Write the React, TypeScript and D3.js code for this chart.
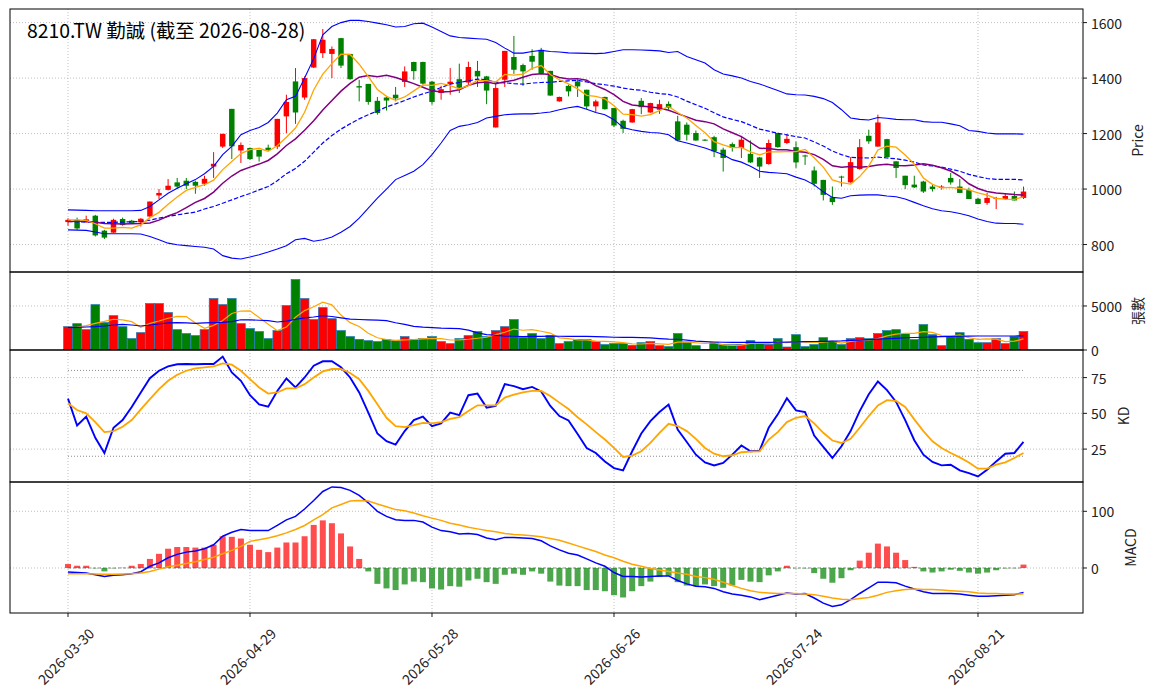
import React from "react";
import * as d3 from "d3";

const titleText = "8210.TW 勤誠 (截至 2026-08-28)";
const tickIdx = [0, 20, 40, 60, 80, 100];
const tickLabels = ["2026-03-30", "2026-04-29", "2026-05-28", "2026-06-26", "2026-07-24", "2026-08-21"];

const opens = [881,889,884,904,850,843,892,886,880,901,
977,997,1024,1030,1026,1019,1081,1153,1289,1139,
1148,1141,1149,1153,1262,1388,1330,1438,1490,1487,
1544,1487,1371,1379,1318,1330,1340,1386,1458,1458,
1387,1346,1379,1396,1384,1426,1406,1222,1394,1476,
1447,1480,1502,1426,1316,1372,1388,1358,1298,1332,
1292,1246,1240,1318,1276,1286,1307,1244,1232,1202,
1178,1187,1142,1162,1148,1127,1114,1090,1202,1166,
1151,1121,1067,1033,970,1045,1024,1072,1192,1153,
1180,1100,1048,1016,1027,1009,1004,1040,1009,997,
965,950,965,964,975,968];
const highs = [895,897,904,907,853,893,897,889,895,955,
1000,1036,1040,1040,1030,1048,1133,1199,1289,1168,
1149,1142,1160,1253,1340,1436,1406,1541,1577,1514,
1545,1487,1394,1379,1332,1336,1368,1442,1459,1459,
1390,1372,1436,1452,1459,1462,1408,1384,1498,1552,
1452,1504,1509,1426,1333,1376,1396,1358,1322,1333,
1293,1250,1289,1328,1311,1322,1316,1264,1240,1211,
1180,1192,1149,1168,1192,1175,1116,1178,1203,1199,
1171,1124,1081,1033,1009,1048,1115,1180,1214,1268,
1181,1100,1048,1048,1030,1016,1014,1058,1036,1005,
969,986,972,983,991,1009];
const lows = [868,853,878,829,820,842,868,874,865,900,
964,995,1000,1000,983,1012,1040,1148,1108,1094,
1105,1099,1137,1144,1202,1235,1322,1436,1472,1400,
1436,1394,1316,1304,1268,1283,1316,1368,1394,1377,
1304,1322,1340,1346,1376,1368,1306,1222,1368,1415,
1372,1430,1416,1336,1315,1334,1332,1288,1276,1286,
1223,1202,1239,1270,1275,1271,1286,1172,1175,1174,
1173,1115,1063,1135,1112,1094,1040,1088,1149,1162,
1076,1087,1009,959,943,1009,1023,1070,1163,1153,
1115,1040,1000,1004,986,991,998,1016,985,964,
946,943,928,961,959,964];
const closes = [889,858,891,833,825,889,870,878,893,955,
986,1012,1009,1012,1012,1037,1091,1199,1154,1159,
1108,1117,1141,1253,1314,1276,1400,1540,1538,1505,
1445,1396,1366,1314,1274,1319,1327,1424,1425,1380,
1314,1360,1387,1365,1440,1406,1355,1364,1498,1430,
1424,1459,1416,1337,1332,1352,1370,1298,1316,1288,
1229,1217,1288,1295,1310,1306,1292,1175,1196,1175,
1175,1136,1112,1148,1178,1096,1081,1166,1151,1181,
1096,1119,1019,979,953,1044,1097,1151,1172,1240,
1115,1076,1014,1006,991,1000,1009,1024,986,964,
946,968,968,975,959,991];
const volumes = [2650,2990,2310,5150,3110,3900,2650,1290,1970,5270,
5270,4250,2310,1860,1630,2310,5840,5150,5840,2990,
2430,2090,1290,2200,5040,8000,5840,3450,4810,3560,
2200,1520,1210,1060,950,1210,1060,1520,1210,1290,
1520,950,720,1290,1630,2090,1520,2200,2650,3450,
1400,1860,1290,1630,720,950,1210,1180,950,610,
720,720,530,830,950,490,380,1860,910,490,
50,830,610,610,640,1060,800,640,1290,340,
1740,380,610,1400,950,610,1290,1400,1290,1860,
2200,2310,1860,1180,2880,1740,490,1520,1970,1210,
830,830,1290,720,1520,2090];

const ma5 = [889,889,887,875,859,859,862,859,871,897,
916,945,971,995,1006,1016,1032,1070,1099,1128,
1142,1147,1136,1156,1187,1220,1277,1357,1414,1452,
1486,1485,1450,1405,1359,1334,1320,1332,1354,1375,
1374,1381,1373,1361,1373,1392,1391,1386,1413,1411,
1414,1435,1445,1413,1394,1379,1361,1338,1334,1325,
1300,1270,1268,1263,1268,1283,1298,1276,1256,1229,
1203,1171,1159,1149,1150,1134,1123,1134,1134,1135,
1135,1143,1113,1079,1033,1023,1018,1045,1083,1141,
1155,1151,1123,1090,1040,1017,1004,1006,1002,997,
986,978,966,964,963,972];
const ma10 = [883,884,884,880,876,875,874,875,876,878,
888,903,915,933,952,966,989,1021,1047,1067,
1079,1090,1103,1127,1157,1181,1212,1246,1285,1319,
1353,1381,1403,1409,1405,1410,1402,1391,1380,1367,
1354,1350,1352,1358,1374,1383,1386,1380,1387,1392,
1403,1413,1416,1413,1402,1397,1398,1392,1373,1359,
1340,1316,1303,1299,1296,1292,1284,1272,1260,1248,
1243,1235,1217,1203,1189,1168,1147,1146,1142,1142,
1135,1133,1124,1107,1084,1079,1081,1079,1081,1087,
1089,1085,1084,1087,1091,1086,1077,1065,1046,1019,
1002,991,986,983,980,979];
const ma20 = [883,882,881,880,880,880,881,882,883,888,
895,901,907,912,917,928,937,949,961,973,
984,997,1009,1030,1055,1074,1100,1133,1166,1193,
1216,1235,1253,1268,1281,1296,1307,1319,1332,1343,
1353,1366,1378,1384,1390,1396,1394,1385,1383,1380,
1378,1382,1384,1385,1388,1390,1392,1386,1380,1376,
1371,1364,1359,1356,1349,1344,1341,1332,1317,1304,
1291,1275,1260,1251,1243,1230,1216,1209,1201,1195,
1189,1184,1170,1155,1137,1124,1114,1113,1112,1115,
1112,1109,1104,1097,1087,1083,1079,1072,1064,1053,
1045,1038,1035,1035,1035,1033];
const bbUpper = [925,924,923,922,922,922,922,922,923,937,
961,985,1003,1019,1034,1055,1082,1124,1154,1196,
1211,1222,1240,1274,1322,1334,1400,1470,1556,1586,
1600,1608,1608,1604,1598,1592,1584,1586,1596,1598,
1584,1568,1552,1546,1544,1542,1540,1528,1508,1490,
1490,1496,1500,1496,1494,1491,1490,1489,1488,1490,
1496,1502,1502,1501,1500,1498,1492,1496,1478,1466,
1454,1430,1415,1408,1400,1388,1379,1367,1355,1343,
1340,1339,1334,1326,1312,1286,1256,1251,1249,1258,
1255,1251,1250,1250,1243,1241,1241,1235,1228,1211,
1208,1202,1199,1199,1199,1198];
const bbLower = [853,852,851,845,839,839,839,839,838,829,
817,805,799,796,793,790,784,760,751,748,
755,763,773,784,796,817,822,812,817,827,
844,865,895,931,967,1000,1034,1049,1064,1088,
1124,1166,1211,1226,1232,1240,1256,1262,1268,1270,
1271,1271,1274,1278,1286,1293,1298,1288,1276,1268,
1250,1222,1214,1208,1204,1202,1196,1174,1166,1157,
1148,1136,1124,1106,1097,1082,1064,1060,1058,1055,
1043,1033,1015,990,970,967,976,978,979,979,
975,972,964,952,940,929,922,918,912,904,
892,883,877,876,876,873];

const volMa5 = [2540,2615,2767,3032,3244,3494,3426,3222,2585,3017,
3290,3608,3813,3790,3062,2471,2790,3358,4154,4427,
4450,3699,2926,2198,2608,3722,4472,4904,5427,5132,
3972,3108,2661,1910,1387,1190,1099,1160,1190,1258,
1319,1296,1137,1152,1221,1334,1448,1744,2016,2380,
2244,2312,2130,1925,1380,1289,1160,1137,1001,978,
932,834,705,682,750,705,637,902,917,826,
738,829,579,518,548,750,743,750,887,826,
963,879,872,894,1016,788,970,1129,1107,1289,
1607,1812,1903,1880,2084,1993,1630,1561,1721,1387,
1205,1274,1228,944,1005,1255];
const volMa20 = [2540,2577,2615,2653,2729,2842,2918,2842,2729,2842,
2956,3070,3108,3070,3032,3070,3108,3146,3221,3438,
3426,3381,3330,3182,3279,3483,3642,3750,3892,3807,
3654,3517,3462,3422,3389,3334,3095,2913,2681,2596,
2551,2494,2466,2420,2250,1954,1738,1676,1567,1562,
1522,1539,1543,1571,1560,1547,1554,1537,1524,1490,
1450,1439,1429,1406,1372,1293,1236,1219,1131,1000,
950,910,880,872,872,872,872,872,880,900,
920,948,965,985,1005,1030,1080,1130,1180,1230,
1280,1330,1390,1420,1450,1490,1520,1540,1560,1580,
1590,1592,1592,1592,1592,1600];

const kValues = [60.3,41.5,47.7,32.9,22.3,39.9,45.3,54.5,64.6,74.6,
79.8,82.9,84.3,84.5,84.3,84.5,84.5,89.7,78.6,72.8,
62.7,56.3,54.7,65.7,74.4,68.1,75.1,83.3,86.4,86.4,
82.2,75.1,64.6,50.5,35.9,30.5,28.2,37.6,45.3,47.7,
41.1,43,50.5,48.8,62.7,63.8,54,55.2,70.4,69,
66.9,68.5,65.3,55.2,48.1,45,35.5,25.8,22.3,16.4,
11.7,10.1,23.5,35.9,44.6,50.9,56.1,38.7,30,21.1,
15.7,13.6,15.3,21.1,27.5,23.5,23.9,39.9,49.3,60.6,
52.1,50.9,34.5,26.5,18.8,27,37.6,51.6,63.4,72.3,
66.2,58,45.3,31.2,21.1,16,13.6,14.1,10.1,8.2,
5.9,10.6,16.4,21.8,22.3,30];
const dValues = [57,52.3,50,43.9,36.9,37.6,40.6,45.3,52.8,59.9,
66.9,72.8,77,79.8,81.5,82.2,82.9,85,84,79.8,
73.9,68.1,63.8,64.6,67.4,67.4,70.4,75.1,79.3,81,
81,78.2,73.9,65.7,56.3,46.9,41.1,40.4,41.8,43.4,
43,43.9,46.2,47.4,51.6,55.6,55.6,55.6,61,63.1,
64.6,65.7,65.7,62.2,57.5,53,47.3,42.3,36.9,31.7,
25.8,19.5,20.5,23.5,29.3,36.4,42.7,41.1,37.6,32.2,
25.8,21.8,20,20.7,22.8,23.2,23.5,31.7,36.9,43.9,
46.9,48.1,43,36.4,31,29.3,32.2,39.9,48.1,55.6,
59.2,58.7,54.5,45.8,37.6,30.5,25.8,22.3,19.2,15.7,
11.3,11.3,14.1,15.7,18.8,22.3];

const macdDif = [-7,-8,-9,-12,-15,-13,-12,-10,-6.5,3,
9,18,24,28,30,34,41,56,63,68,
66,66,66,75,85,91,104,119,135,143,
142,137,128,115,100,91,85,84,84,81,
72,66,64,60,61,59,53,50,54,54,
53,52,48,39,32,26,23,16,9,3,
-8,-15,-15,-16,-15,-14,-14,-22,-28,-32,
-33,-36,-42,-46,-48,-51,-56,-52,-48,-44,
-46,-45,-53,-62,-68,-65,-56,-45,-35,-25,
-25,-26,-32,-37,-42,-45,-45,-45,-46,-48,
-50,-50,-49,-48,-47,-43];
const macdSignal = [-10,-10,-10,-10.5,-11,-11,-10.5,-10,-9,-6,
-2,2,5,8,11,15,19,25,31,38,
47,50,53,57,62,68,75,85,94,106,
112,118,119,118,113,108,103,101,97,92,
88,84,79,76,72,69,66,64,61,59,
58,57,55,52,49,44,39,34,29,23,
18,12,6.5,3,-1,-3.5,-6,-9,-11,-15,
-17,-20,-25,-31,-36,-40,-43,-44,-45,-45,
-45,-46,-47,-50,-53,-55,-56,-54,-52,-48,
-43,-40,-38,-37,-38,-38,-39,-40,-41,-42,
-44,-45,-45,-46,-46,-46];
const macdHist = [7,4,4,-0.5,-6,-0.5,0.3,4,7,16,
25,34,37,37,36,36,41,56,55,52,
41,32,28,36,45,45,56,76,84,79,
61,38,16,-6,-28,-36,-39,-29,-24,-25,
-36,-38,-32,-33,-22,-19,-25,-28,-12,-10,
-12,-6,-10,-24,-31,-32,-32,-39,-39,-41,
-48,-52,-41,-32,-24,-16,-14,-25,-31,-32,
-29,-32,-35,-31,-21,-24,-25,-13,-6,4,
-0.4,-0.5,-9,-19,-26,-18,-4,13,27,43,
38,27,14,2,-6,-8,-6,-3,-5,-8,
-10,-8,-4,-0.6,-0.3,6];

const priceTicks = [800, 1000, 1200, 1400, 1600];
const volTicks = [0, 5000];
const kdTicks = [25, 50, 75];
const kdRefs = [20, 80];
const macdTicks = [0, 100];

const FONT = "'Noto Sans CJK TC', 'Noto Sans', 'DejaVu Sans', sans-serif";
const GRID = "#b0b0b0";

export default function App() {
  const W = 1156, H = 698;
  const L = 10, R = 1083;
  const pPrice = { t: 9, b: 272 };
  const pVol = { t: 272, b: 350 };
  const pKD = { t: 350, b: 482 };
  const pMacd = { t: 482, b: 613 };
  const panels = [pPrice, pVol, pKD, pMacd];

  const x = d3.scaleLinear().domain([-6.374, 111.54]).range([L, R]);
  const yP = d3.scaleLinear().domain([701, 1649]).range([pPrice.b, pPrice.t]);
  const yV = d3.scaleLinear().domain([0, 8860]).range([pVol.b, pVol.t]);
  const yK = d3.scaleLinear().domain([2, 94.3]).range([pKD.b, pKD.t]);
  const yM = d3.scaleLinear().domain([-79.4, 151.7]).range([pMacd.b, pMacd.t]);

  const n = closes.length;
  const idx = d3.range(n);
  const mk = (ys: number[], sc: d3.ScaleLinear<number, number>) =>
    d3.line<number>().x((_, i) => x(i)).y((v) => sc(v))(ys) || "";
  const seg = (vals: number[], sc: d3.ScaleLinear<number, number>, a: number, b: number) =>
    d3.line<number>().x((_, i) => x(i === 0 ? a : b)).y((v) => sc(v))(vals) || "";

  const bodyW = x(0.3) - x(-0.3);
  const volW = x(0.48) - x(-0.48);
  const histW = x(0.33) - x(-0.33);
  const up = (i: number) => closes[i] >= opens[i];

  const hGrid = (vals: number[], sc: d3.ScaleLinear<number, number>) =>
    vals.map((v, k) => (
      <line key={"h" + k} x1={L} x2={R} y1={sc(v)} y2={sc(v)} stroke={GRID} strokeWidth={0.8} strokeDasharray="1,2" />
    ));
  const vGrid = (p: { t: number; b: number }) =>
    tickIdx.map((t, k) => (
      <line key={"v" + k} x1={x(t)} x2={x(t)} y1={p.t} y2={p.b} stroke={GRID} strokeWidth={0.8} strokeDasharray="1,2" />
    ));
  const yTicks = (vals: number[], sc: d3.ScaleLinear<number, number>, fmt: (v: number) => string) =>
    vals.map((v, k) => (
      <g key={"t" + k}>
        <line x1={R} x2={R + 4} y1={sc(v)} y2={sc(v)} stroke="#000" strokeWidth={0.9} />
        <text x={R + 8} y={sc(v)} dominantBaseline="central" fontSize={14} fill="#222">{fmt(v)}</text>
      </g>
    ));

  return (
    <svg width={W} height={H} style={{ position: "absolute", left: 0, top: 0, background: "#fff" }} fontFamily={FONT}>
      <defs>
        {panels.map((p, k) => (
          <clipPath key={k} id={"clip" + k}>
            <rect x={L} y={p.t} width={R - L} height={p.b - p.t} />
          </clipPath>
        ))}
      </defs>
      <rect x={0} y={0} width={W} height={H} fill="#fff" />

      {panels.map((p, k) => <g key={"vg" + k}>{vGrid(p)}</g>)}
      {hGrid(priceTicks, yP)}
      {hGrid([5000], yV)}
      {hGrid(kdTicks, yK)}
      {hGrid(macdTicks, yM)}

      <g clipPath="url(#clip0)">
        {idx.map((i) => {
          const c = up(i) ? "#ff0000" : "#008000";
          const top = yP(Math.max(opens[i], closes[i]));
          const bot = yP(Math.min(opens[i], closes[i]));
          return (
            <g key={"c" + i}>
              <line x1={x(i)} x2={x(i)} y1={yP(highs[i])} y2={yP(lows[i])} stroke={c} strokeWidth={1} />
              <rect x={x(i) - bodyW / 2} y={top} width={bodyW} height={Math.max(1, bot - top)} fill={c} />
            </g>
          );
        })}
        <path d={mk(bbUpper, yP)} fill="none" stroke="#0000ff" strokeWidth={1.1} />
        <path d={mk(bbLower, yP)} fill="none" stroke="#0000ff" strokeWidth={1.1} />
        <path d={mk(ma20, yP)} fill="none" stroke="#0000ff" strokeWidth={1.2} strokeDasharray="4.5,2" />
        <path d={mk(ma10, yP)} fill="none" stroke="#800080" strokeWidth={1.5} />
        <path d={mk(ma5, yP)} fill="none" stroke="#ffa500" strokeWidth={1.3} />
      </g>
      <text x={27} y={37.5} fontSize={19.4} fill="#000">{titleText}</text>

      <g clipPath="url(#clip1)">
        {idx.map((i) => (
          <rect key={"v" + i} x={x(i) - volW / 2} y={yV(volumes[i])} width={volW} height={yV(0) - yV(volumes[i])}
            fill={up(i) ? "#ff0000" : "#008000"} stroke="#1f77b4" strokeWidth={0.7} />
        ))}
        <path d={mk(volMa5, yV)} fill="none" stroke="#ffa500" strokeWidth={1.2} />
        <path d={mk(volMa20, yV)} fill="none" stroke="#0000ff" strokeWidth={1.2} />
      </g>

      <g clipPath="url(#clip2)">
        {kdRefs.map((v, k) => (
          <path key={"r" + k} d={seg([v, v], yK, 0, n - 1)} stroke="#808080" strokeWidth={0.9} strokeDasharray="1,2" fill="none" />
        ))}
        <path d={mk(kValues, yK)} fill="none" stroke="#0000ff" strokeWidth={1.9} />
        <path d={mk(dValues, yK)} fill="none" stroke="#ffa500" strokeWidth={1.8} />
      </g>

      <g clipPath="url(#clip3)">
        <path d={seg([0, 0], yM, 0, n - 1)} stroke="#808080" strokeWidth={0.9} strokeDasharray="3,2" fill="none" />
        {idx.map((i) => {
          const v = macdHist[i];
          const y0 = yM(0), y1 = yM(v);
          return (
            <rect key={"h" + i} x={x(i) - histW / 2} y={Math.min(y0, y1)} width={histW} height={Math.abs(y1 - y0)}
              fill={v >= 0 ? "#ff0000" : "#008000"} fillOpacity={0.7} />
          );
        })}
        <path d={mk(macdDif, yM)} fill="none" stroke="#0000ff" strokeWidth={1.5} />
        <path d={mk(macdSignal, yM)} fill="none" stroke="#ffa500" strokeWidth={1.5} />
      </g>

      {panels.map((p, k) => (
        <rect key={"f" + k} x={L} y={p.t} width={R - L} height={p.b - p.t} fill="none" stroke="#000" strokeWidth={1} />
      ))}

      {yTicks(priceTicks, yP, (v) => String(v))}
      {yTicks(volTicks, yV, (v) => String(v))}
      {yTicks(kdTicks, yK, (v) => String(v))}
      {yTicks(macdTicks, yM, (v) => String(v))}

      {[
        { t: "Price", x: 1137, y: (pPrice.t + pPrice.b) / 2 },
        { t: "張數", x: 1137, y: (pVol.t + pVol.b) / 2 },
        { t: "KD", x: 1123, y: (pKD.t + pKD.b) / 2 },
        { t: "MACD", x: 1130, y: (pMacd.t + pMacd.b) / 2 },
      ].map((d, k) => (
        <text key={"yl" + k} transform={`translate(${d.x},${d.y}) rotate(-90)`} textAnchor="middle"
          dominantBaseline="central" fontSize={14} fill="#222">{d.t}</text>
      ))}

      {tickIdx.map((t, k) => (
        <g key={"xt" + k}>
          <line x1={x(t)} x2={x(t)} y1={pMacd.b} y2={pMacd.b + 4} stroke="#000" strokeWidth={0.9} />
          <text transform={`translate(${x(t) - 2.5},${656}) rotate(-45)`} textAnchor="middle" dominantBaseline="central"
            fontSize={14} fill="#222">{tickLabels[k]}</text>
        </g>
      ))}
    </svg>
  );
}
